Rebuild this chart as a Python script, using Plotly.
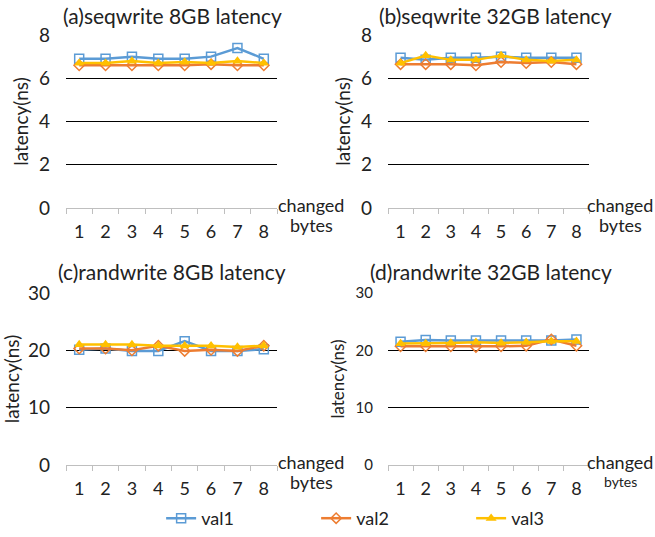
import plotly.graph_objects as go

categories = ["1", "2", "3", "4", "5", "6", "7", "8"]
series_names = ["val1", "val2", "val3"]

# (a) seqwrite 8GB
a_val1 = [6.9, 6.9, 7.0, 6.9, 6.9, 7.0, 7.4, 6.9]
a_val2 = [6.6, 6.6, 6.6, 6.6, 6.6, 6.65, 6.6, 6.6]
a_val3 = [6.7, 6.7, 6.8, 6.7, 6.75, 6.7, 6.8, 6.7]
# (b) seqwrite 32GB
b_val1 = [6.95, 6.85, 6.95, 6.95, 7.0, 6.95, 6.95, 6.95]
b_val2 = [6.65, 6.65, 6.65, 6.6, 6.75, 6.7, 6.75, 6.65]
b_val3 = [6.7, 7.05, 6.85, 6.85, 7.05, 6.85, 6.8, 6.85]
# (c) randwrite 8GB
c_val1 = [20.1, 20.3, 19.9, 19.9, 21.6, 19.9, 19.9, 20.2]
c_val2 = [20.3, 20.3, 20.0, 20.8, 19.9, 20.1, 19.9, 20.8]
c_val3 = [21.0, 21.0, 21.0, 20.8, 20.8, 20.8, 20.6, 20.8]
# (d) randwrite 32GB
d_val1 = [21.5, 21.8, 21.7, 21.7, 21.7, 21.7, 21.7, 21.9]
d_val2 = [20.7, 20.7, 20.7, 20.6, 20.7, 20.8, 21.9, 20.8]
d_val3 = [21.2, 21.2, 21.3, 21.4, 21.3, 21.4, 21.6, 21.6]

titles = ["(a)seqwrite 8GB latency", "(b)seqwrite 32GB latency",
          "(c)randwrite 8GB latency", "(d)randwrite 32GB latency"]
y_ticks_top = [0, 2, 4, 6, 8]
y_ticks_bottom = [0, 10, 20, 30]

colors = ["#5B9BD5", "#ED7D31", "#FFC000"]
symbols = ["square-open", "diamond-open", "triangle-up"]
msizes = [9, 8, 7]

panels = [
    (titles[0], [a_val1, a_val2, a_val3], "x", "y"),
    (titles[1], [b_val1, b_val2, b_val3], "x2", "y2"),
    (titles[2], [c_val1, c_val2, c_val3], "x3", "y3"),
    (titles[3], [d_val1, d_val2, d_val3], "x4", "y4"),
]

W, H = 655, 537
xdom = [(66 / W, 277 / W), (388 / W, 589 / W)]
ydom = [(1 - 208 / H, 1 - 35 / H), (1 - 465 / H, 1 - 293 / H)]

fig = go.Figure()
FONT = "Lato"
TXT = "#222222"

for pi, (title, vals, xa, ya) in enumerate(panels):
    for si in range(3):
        fig.add_trace(go.Scatter(
            x=categories, y=vals[si], name=series_names[si],
            xaxis=xa, yaxis=ya, mode="lines+markers",
            line=dict(color=colors[si], width=2.5),
            marker=dict(symbol=symbols[si], size=msizes[si], color=colors[si],
                        line=dict(width=1.5, color=colors[si])),
            showlegend=(pi == 0),
        ))

axis_common_x = dict(type="category", tickson="boundaries", ticks="outside",
                     ticklen=5, tickcolor="#BFBFBF", showline=True,
                     linecolor="#BFBFBF", linewidth=1, showgrid=False,
                     range=[-0.5, 7.5], ticklabelstandoff=7,
                     tickfont=dict(size=18, color=TXT, family=FONT),
                     fixedrange=True, automargin=False)

layout = dict(width=W, height=H, margin=dict(l=0, r=0, t=0, b=0, autoexpand=False),
              paper_bgcolor="white", plot_bgcolor="white",
              font=dict(family=FONT, color=TXT),
              legend=dict(orientation="h", x=0.246, y=0.0, xanchor="left", yanchor="bottom",
                          entrywidth=110, entrywidthmode="pixels", itemwidth=30,
                          font=dict(size=18, family=FONT, color=TXT)))

for pi in range(4):
    col = pi % 2
    row = pi // 2
    xk = "xaxis" if pi == 0 else f"xaxis{pi+1}"
    yk = "yaxis" if pi == 0 else f"yaxis{pi+1}"
    xa = "x" if pi == 0 else f"x{pi+1}"
    ya = "y" if pi == 0 else f"y{pi+1}"
    layout[xk] = dict(axis_common_x, domain=list(xdom[col]), anchor=ya)
    ticks = y_ticks_top if row == 0 else y_ticks_bottom
    small = (row == 1 and col == 1)
    layout[yk] = dict(domain=list(ydom[row]), anchor=xa, range=[0, ticks[-1]],
                      tickvals=ticks, showgrid=True, gridcolor="black", gridwidth=1.3,
                      zeroline=True, zerolinecolor="#BFBFBF", zerolinewidth=1,
                      showline=False, ticks="", ticklabelstandoff=15 if not small else 14,
                      tickfont=dict(size=19 if not small else 15, color=TXT, family=FONT),
                      title=dict(text="latency(ns)", standoff=5 if not small else 6,
                                 font=dict(size=19 if not small else 17, family=FONT, color=TXT)),
                      fixedrange=True, automargin=False)

fig.update_layout(**layout)

annots = []
title_pos = [(172, 15), (495, 15), (172, 271), (491, 271)]
for pi, (tx, ty) in enumerate(title_pos):
    annots.append(dict(text=titles[pi], x=tx / W, y=1 - ty / H, xref="paper", yref="paper",
                       showarrow=False, xanchor="center", yanchor="middle",
                       font=dict(size=21, family=FONT, color=TXT)))
cb_pos = [(311, 205, 225, 18), (620, 205, 225, 18), (311, 462, 482, 18), (620, 462, 481, 14)]
for (cx, y1, y2, bs) in cb_pos:
    annots.append(dict(text="changed", x=cx / W, y=1 - y1 / H, xref="paper", yref="paper",
                       showarrow=False, xanchor="center", yanchor="middle",
                       font=dict(size=18, family=FONT, color=TXT)))
    annots.append(dict(text="bytes", x=cx / W, y=1 - y2 / H, xref="paper", yref="paper",
                       showarrow=False, xanchor="center", yanchor="middle",
                       font=dict(size=bs, family=FONT, color=TXT)))
fig.update_layout(annotations=annots)

fig.write_html("out.html")
